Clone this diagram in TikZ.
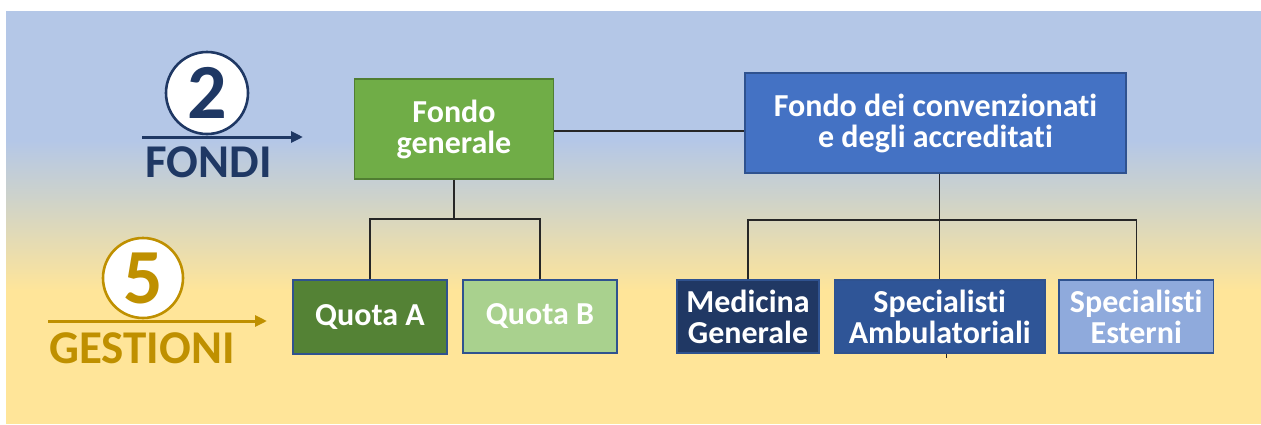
\documentclass[tikz,border=0pt]{standalone}
\usepackage{fontspec}
\setmainfont{Carlito}[Ligatures=NoCommon]
\usetikzlibrary{arrows.meta,calc}
\definecolor{bgblue}{HTML}{B4C7E7}
\definecolor{bgmid}{HTML}{CFD3C9}
\definecolor{bgyellow}{HTML}{FFE599}
\definecolor{navy}{HTML}{1F3864}
\definecolor{gold}{HTML}{BF9000}
\definecolor{cgreen}{HTML}{70AD47}
\definecolor{cgreenb}{HTML}{507E32}
\definecolor{cquotaA}{HTML}{548235}
\definecolor{cquotaB}{HTML}{A9D18E}
\definecolor{cblue}{HTML}{4472C4}
\definecolor{cblueb}{HTML}{2F528F}
\definecolor{cmedicina}{HTML}{203864}
\definecolor{cambul}{HTML}{2F5597}
\definecolor{cesterni}{HTML}{8FAADC}
\tikzset{
  box/.style={draw=cblueb, line width=1.2pt, text=white, align=center,
    font=\bfseries\fontsize{32}{31}\selectfont, inner sep=0pt},
  conn/.style={draw=black!85, line width=1.3pt},
  numcircle/.style={circle, draw, line width=2.6pt, fill=white, inner sep=0pt,
    font=\bfseries\fontsize{78}{78}\selectfont},
  label/.style={font=\bfseries\fontsize{47}{47}\selectfont, anchor=base, inner sep=0pt},
  levelarrow/.style={line width=3pt, -{Triangle[length=12pt,width=11pt]}}
}
\begin{document}
\begin{tikzpicture}[x=1pt,y=-1pt]
\useasboundingbox (0,0) rectangle (1261,424);
% background
\fill[white] (0,0) rectangle (1261,424);
\fill[bgblue] (6,11) rectangle (1261,141);
\shade[top color=bgblue, bottom color=bgmid] (6,140) rectangle (1261,201);
\shade[top color=bgmid, bottom color=bgyellow] (6,200) rectangle (1261,291);
\fill[bgyellow] (6,290) rectangle (1261,424);

% left labels
\coordinate (a1s) at (142,137);
\coordinate (a1e) at (303,137);
\draw[levelarrow, navy] (a1s) -- (a1e);
\node[numcircle, draw=navy, text=navy, minimum size=82pt] (c2) at (207,93) {2};
\node[label, text=navy] (fondi) at (208.5,177) {FONDI};

\coordinate (a2s) at (48,321);
\coordinate (a2e) at (267,321);
\draw[levelarrow, gold] (a2s) -- (a2e);
\node[numcircle, draw=gold, text=gold, minimum size=80pt] (c5) at (143,278) {5};
\node[label, text=gold] (gestioni) at (142,363) {GESTIONI};

% boxes
\node[box, draw=cgreenb, fill=cgreen, minimum width=199pt, minimum height=100pt] (fg) at (454,129) {Fondo\\generale};
\node[box, fill=cblue, minimum width=381pt, minimum height=100pt] (fc) at (935.5,123) {Fondo dei convenzionati\\e degli accreditati};
\node[box, fill=cquotaA, minimum width=154pt, minimum height=74pt] (qa) at (370,317) {Quota A};
\node[box, fill=cquotaB, minimum width=154pt, minimum height=73pt] (qb) at (540,316.5) {Quota B};
\node[box, fill=cmedicina, minimum width=142pt, minimum height=73pt] (mg) at (748,316.5) {Medicina\\Generale};
\node[box, fill=cambul, minimum width=210.5pt, minimum height=73pt] (sa) at (939.75,316.5) {Specialisti\\Ambulatoriali};
\node[box, fill=cesterni, minimum width=154.5pt, minimum height=73pt] (se) at (1136.25,316.5) {Specialisti\\Esterni};

% connectors
\draw[conn] ([yshift=-2pt]fg.east) -- ([yshift=-8pt]fc.west);
\coordinate (j1) at (454,219);
\draw[conn] (fg.south) -- (j1);
\draw[conn] (qa.north) |- (j1) -| (qb.north);
\coordinate (j2) at (939.75,220);
\draw[conn] (fc.south -| sa.north) -- (sa.north);
\draw[conn] (mg.north) |- (j2) -| (se.north);
\draw[conn] ([xshift=7pt]sa.south) -- ++(0,4);
\end{tikzpicture}
\end{document}
